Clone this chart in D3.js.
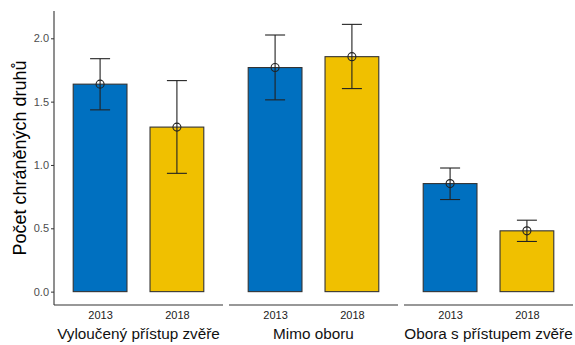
<!DOCTYPE html>
<html><head><meta charset="utf-8">
<script src="https://cdn.jsdelivr.net/npm/d3@7"></script>
<style>body{margin:0;background:#fff}svg{display:block}text{font-family:Arial,"Liberation Sans",sans-serif}</style>
</head><body><svg id="c" width="575" height="345"></svg>
<script>
const groups = ["Vyloučený přístup zvěře", "Mimo oboru", "Obora s přístupem zvěře"];
const years = ["2013", "2018"];
const means = [[1.638, 1.299], [1.769, 1.855], [0.853, 0.480]];
const lower = [[1.435, 0.934], [1.514, 1.603], [0.727, 0.396]];
const upper = [[1.839, 1.666], [2.026, 2.110], [0.976, 0.564]];
const yTicks = [0, 0.5, 1.0, 1.5, 2.0];
const colors = ["#0070C0", "#F0C000"];
const yLabel = "Počet chráněných druhů";

const svg = d3.select("#c");
const mLeft = 54, mTop = 11, mBottom = 305, panelW = 169, gap = 6;
const y = d3.scaleLinear().domain([-0.1055, 2.2155]).range([mBottom, mTop]);

// y axis
const ya = svg.append("g").attr("transform", `translate(${mLeft},0)`)
  .call(d3.axisLeft(y).tickValues(yTicks).tickFormat(d3.format(".1f")).tickSize(3).tickPadding(2));
ya.select(".domain").attr("d", `M0,${mTop}V${mBottom}`).attr("stroke", "#333").attr("stroke-width", 1.1);
ya.selectAll(".tick line").attr("stroke", "#333");
ya.selectAll(".tick text").attr("fill", "#4d4d4d").style("font-size", "11px");

svg.append("text").attr("transform", `translate(26,${(mTop+mBottom)/2}) rotate(-90)`)
  .attr("text-anchor", "middle").style("font-size", "18px").attr("fill", "#000").text(yLabel);

groups.forEach((g, gi) => {
  const x0 = mLeft + gi * (panelW + gap);
  // ggplot discrete: positions 1,2 within [0.4,2.6]
  const xp = d3.scalePoint().domain(years).range([x0 + panelW*0.6/2.2, x0 + panelW*1.6/2.2]);
  const bw = panelW * 0.7 / 2.2;
  const p = svg.append("g");
  years.forEach((yr, yi) => {
    const cx = xp(yr);
    p.append("rect").attr("x", cx - bw/2).attr("y", y(means[gi][yi]))
      .attr("width", bw).attr("height", y(0) - y(means[gi][yi]))
      .attr("fill", colors[yi]).attr("stroke", "#333").attr("stroke-width", 1.1);
    const eg = p.append("g").attr("stroke", "#222").attr("stroke-width", 1.1).attr("fill", "none");
    eg.append("line").attr("x1", cx).attr("x2", cx).attr("y1", y(lower[gi][yi])).attr("y2", y(upper[gi][yi]));
    eg.append("line").attr("x1", cx-10).attr("x2", cx+10).attr("y1", y(lower[gi][yi])).attr("y2", y(lower[gi][yi]));
    eg.append("line").attr("x1", cx-10).attr("x2", cx+10).attr("y1", y(upper[gi][yi])).attr("y2", y(upper[gi][yi]));
    eg.append("circle").attr("cx", cx).attr("cy", y(means[gi][yi])).attr("r", 4);
  });
  const xa = svg.append("g").attr("transform", `translate(0,${mBottom})`)
    .call(d3.axisBottom(xp).tickSize(0).tickPadding(6));
  xa.select(".domain").attr("d", `M${x0},0H${x0+panelW}`).attr("stroke", "#333").attr("stroke-width", 1.1);
  xa.selectAll(".tick text").attr("fill", "#222").style("font-size", "11px");
  svg.append("text").attr("x", x0 + panelW/2).attr("y", 339).attr("text-anchor", "middle")
    .style("font-size", "15.3px").attr("fill", "#111").text(g);
});
</script></body></html>
